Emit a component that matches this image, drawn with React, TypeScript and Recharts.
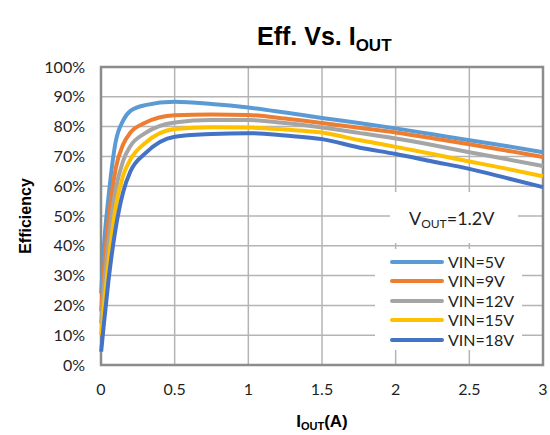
import React from 'react';
import {
    LineChart,
    Line,
    XAxis,
    YAxis,
    CartesianGrid,
    Legend,
    ReferenceArea,
} from 'recharts';

// Output current (A) sample points shared by every curve
const iout = [0.001, 0.02, 0.05, 0.1, 0.15, 0.2, 0.3, 0.5, 0.75, 1.0, 1.25, 1.5, 1.75, 2.0, 2.25, 2.5, 2.75, 3.0];

// Efficiency (%), one array per input voltage
const vin5 = [24, 40, 56, 75, 82, 85.3, 87.2, 88.3, 87.6, 86.4, 84.7, 82.9, 81.2, 79.4, 77.4, 75.4, 73.5, 71.4];
const vin9 = [18, 32, 48, 66, 74, 78, 81.3, 83.8, 84.1, 83.9, 82.7, 81.2, 79.6, 78, 76.1, 74.1, 72, 69.8];
const vin12 = [14, 26, 41, 59, 68.5, 73.5, 77.8, 81.4, 82.2, 82.2, 81.2, 79.7, 77.9, 76, 73.8, 71.4, 69.1, 66.8];
const vin15 = [10, 20, 34, 53, 63.5, 69, 74.5, 79.2, 79.8, 79.7, 79, 78, 75.5, 73.2, 70.8, 68.3, 65.9, 63.3];
const vin18 = [4.5, 14, 28, 46, 58, 65, 71, 76.6, 77.5, 77.8, 77, 75.8, 73, 70.8, 68.3, 65.8, 62.8, 59.7];

const xTicks = [0, 0.5, 1, 1.5, 2, 2.5, 3];
const yTicks = [0, 10, 20, 30, 40, 50, 60, 70, 80, 90, 100];

const seriesDefs = [
    { key: 'v5', name: 'VIN=5V', values: vin5, color: '#5B9BD5' },
    { key: 'v9', name: 'VIN=9V', values: vin9, color: '#ED7D31' },
    { key: 'v12', name: 'VIN=12V', values: vin12, color: '#A5A5A5' },
    { key: 'v15', name: 'VIN=15V', values: vin15, color: '#FFC000' },
    { key: 'v18', name: 'VIN=18V', values: vin18, color: '#4472C4' },
];

const chartData = iout.map((x, i) => {
    const row: Record<string, number> = { x };
    seriesDefs.forEach((s) => {
        row[s.key] = s.values[i];
    });
    return row;
});

const tickFont = { fontFamily: 'Lato, "Noto Sans", sans-serif', fontSize: 16, fill: '#1f1f1f' };
const boldFont = '"Liberation Sans", Arial, sans-serif';

// keep legend rows in series order (recharts sorts by name otherwise)
const seriesOrder = (name: string) => seriesDefs.findIndex((s) => s.name === name);

const renderLegend = (props: any) => {
    const payload = [...(props.payload || [])].sort(
        (a: any, b: any) => seriesOrder(a.value) - seriesOrder(b.value)
    );
    return (
        <div
            style={{
                background: '#fff',
                width: 147,
                height: 101,
                boxSizing: 'border-box',
                paddingTop: 3,
                paddingLeft: 15,
            }}
        >
            {payload.map((entry: any) => (
                <div key={entry.value} style={{ display: 'flex', alignItems: 'center', height: 19.5 }}>
                    <span
                        style={{
                            display: 'inline-block',
                            width: 54,
                            height: 4,
                            borderRadius: 2,
                            background: entry.color,
                            marginRight: 4,
                        }}
                    />
                    <span style={{ fontFamily: tickFont.fontFamily, fontSize: 16, color: '#1f1f1f', lineHeight: 1 }}>
                        {entry.value}
                    </span>
                </div>
            ))}
        </div>
    );
};

export default function App() {
    return (
        <div style={{ position: 'absolute', left: 0, top: 0, width: 550, height: 435, background: '#fff' }}>
            <LineChart
                width={550}
                height={435}
                data={chartData}
                margin={{ top: 67, right: 7, bottom: 40, left: 0 }}
            >
                <CartesianGrid stroke="#B4B4B4" strokeWidth={1.5} vertical horizontal />
                <XAxis
                    dataKey="x"
                    type="number"
                    domain={[0, 3]}
                    ticks={xTicks}
                    height={30}
                    axisLine={false}
                    tickLine={false}
                    tickSize={0}
                    tickMargin={19}
                    tick={tickFont}
                    tickFormatter={(v: number) => String(v)}
                />
                <YAxis
                    type="number"
                    domain={[0, 100]}
                    ticks={yTicks}
                    width={101}
                    axisLine={false}
                    tickLine={false}
                    tickSize={0}
                    tickMargin={16}
                    tick={tickFont}
                    tickFormatter={(v: number) => `${v}%`}
                    interval={0}
                />
                <ReferenceArea
                    x1={0}
                    x2={3}
                    y1={0}
                    y2={100}
                    fill="none"
                    stroke="#8C8C8C"
                    strokeWidth={2.5}
                    ifOverflow="visible"
                />
                <Legend
                    layout="vertical"
                    align="center"
                    verticalAlign="middle"
                    content={renderLegend}
                    wrapperStyle={{ left: 375, top: 249, width: 147, height: 101 }}
                />
                {seriesDefs.map((s) => (
                    <Line
                        key={s.key}
                        type="monotone"
                        dataKey={s.key}
                        name={s.name}
                        stroke={s.color}
                        strokeWidth={4}
                        dot={false}
                        activeDot={false}
                        isAnimationActive={false}
                    />
                ))}
            </LineChart>
            <svg
                width={550}
                height={435}
                style={{ position: 'absolute', left: 0, top: 0, pointerEvents: 'none' }}
            >
                <text x={257} y={45} fontFamily={boldFont} fontWeight="bold" fontSize={25} fill="#000">
                    Eff. Vs. I
                    <tspan fontSize={17} dy={6}>OUT</tspan>
                </text>
                <text
                    x={25}
                    y={216}
                    transform="rotate(-90 25 216)"
                    textAnchor="middle"
                    dominantBaseline="central"
                    fontFamily={boldFont}
                    fontWeight="bold"
                    fontSize={16}
                    fill="#000"
                >
                    Efficiency
                </text>
                <text x={322} y={427} textAnchor="middle" fontFamily={boldFont} fontWeight="bold" fontSize={17} fill="#000">
                    I
                    <tspan fontSize={11} dy={3}>OUT</tspan>
                    <tspan dy={-3}>(A)</tspan>
                </text>
                <rect x={390} y={192} width={128} height={51} fill="#fff" />
                <text x={409} y={225} fontFamily={tickFont.fontFamily} fontSize={18} fill="#1f1f1f">
                    V
                    <tspan fontSize={12} dy={3}>OUT</tspan>
                    <tspan dy={-3}>=1.2V</tspan>
                </text>
            </svg>
        </div>
    );
}
